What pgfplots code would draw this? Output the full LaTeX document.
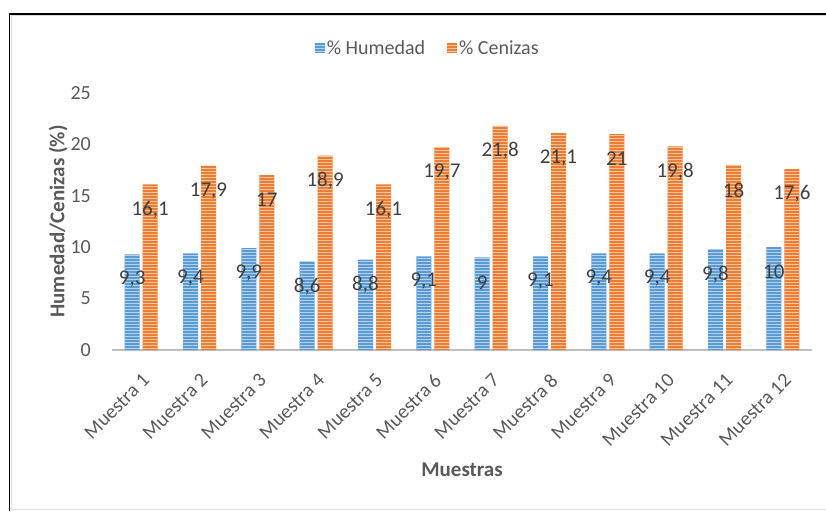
\documentclass[border=0pt]{standalone}
\usepackage{fontspec}
\setmainfont{Carlito}
\usepackage{pgfplots}
\pgfplotsset{compat=1.18}
\usetikzlibrary{patterns}
\definecolor{cblue}{HTML}{5B9BD5}
\definecolor{corange}{HTML}{ED7D31}
\definecolor{txt}{HTML}{595959}
\definecolor{vtxt}{HTML}{404040}
\definecolor{axgray}{HTML}{BFBFBF}
\pgfdeclarepatternformonly{hstripes}{\pgfpoint{-1pt}{-1pt}}{\pgfpoint{101pt}{4pt}}{\pgfpoint{100pt}{3pt}}{%
  \pgfpathrectangle{\pgfpoint{-1pt}{0pt}}{\pgfpoint{102pt}{1.2pt}}\pgfusepath{fill}}
\begin{document}
\begin{tikzpicture}[x=1pt,y=1pt]
\path[use as bounding box] (0,0) rectangle (826,511);
\draw[gray!25, line width=1pt] (11.5,0) -- (11.5,495.5) -- (826,495.5);
\draw[gray!25, line width=1pt] (11.5,1.5) -- (826,1.5);
\draw[black, line width=1.2pt] (9.5,0) -- (9.5,497) -- (826,497);
\begin{axis}[
  at={(112pt,161pt)}, anchor=south west,
  scale only axis, width=700pt, height=257pt,
  ybar=3pt, bar width=15pt,
  xmin=0.5, xmax=12.5, ymin=0, ymax=25,
  enlarge x limits=false, enlarge y limits=false,
  clip=false,
  axis x line*=bottom, axis y line*=left,
  x axis line style={draw=axgray, line width=2.5pt, -},
  y axis line style={draw=none},
  major tick length=0pt,
  xtick={1,...,12},
  xticklabels={Muestra 1,Muestra 2,Muestra 3,Muestra 4,Muestra 5,Muestra 6,Muestra 7,Muestra 8,Muestra 9,Muestra 10,Muestra 11,Muestra 12},
  ytick={0,5,10,15,20,25},
  /pgf/number format/assume math mode=true,
  /pgf/number format/use comma,
  xticklabel style={xshift=5pt, yshift=-27pt, rotate=45, anchor=east, inner sep=0pt, text=txt, font=\fontsize{20}{24}\selectfont},
  yticklabel style={anchor=east, inner sep=0pt, xshift=-21pt, text=txt, font=\fontsize{20}{24}\selectfont},
  xlabel={Muestras},
  ylabel={Humedad/Cenizas (\%)},
  xlabel style={at={(axis description cs:0.5,-0.467)}, anchor=center, text=txt, font=\bfseries\fontsize{21}{25}\selectfont},
  ylabel style={at={(axis description cs:-0.077,0.5)}, anchor=center, text=txt, font=\bfseries\fontsize{21}{25}\selectfont},
  nodes near coords,
  every node near coord/.append style={anchor=center, yshift=-25pt, text=vtxt, font=\fontsize{21}{25}\selectfont},
  legend columns=2,
  legend style={at={(axis description cs:0.451,1.175)}, anchor=center, draw=none, fill=none,
    font=\fontsize{20}{24}\selectfont, text=txt,
    /tikz/every even column/.append style={column sep=20pt}},
  legend image code/.code={\path[#1] (0pt,-5pt) rectangle (10pt,5pt);},
]
\addplot[draw=none, fill=cblue, postaction={pattern=hstripes, pattern color=cblue!45!white}]
  coordinates {(1,9.3) (2,9.4) (3,9.9) (4,8.6) (5,8.8) (6,9.1) (7,9) (8,9.1) (9,9.4) (10,9.4) (11,9.8) (12,10)};
\addlegendentry{\% Humedad}
\addplot[draw=none, fill=corange, postaction={pattern=hstripes, pattern color=corange!45!white}]
  coordinates {(1,16.1) (2,17.9) (3,17) (4,18.9) (5,16.1) (6,19.7) (7,21.8) (8,21.1) (9,21) (10,19.8) (11,18) (12,17.6)};
\addlegendentry{\% Cenizas}
\end{axis}
\end{tikzpicture}
\end{document}
